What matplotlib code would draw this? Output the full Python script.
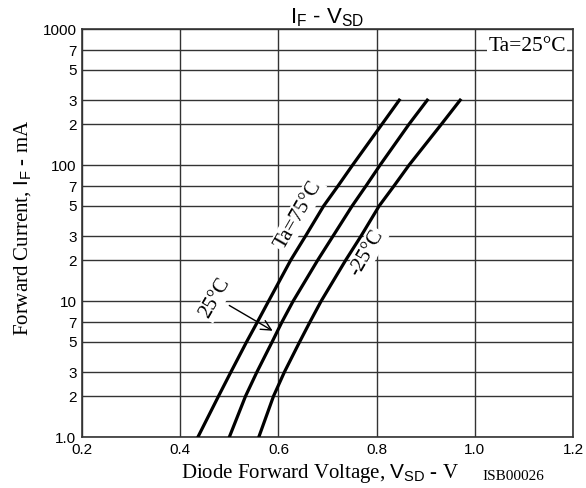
import matplotlib
matplotlib.use("Agg")
import matplotlib.pyplot as plt
import matplotlib.ticker as mticker

plt.rcParams["mathtext.fontset"] = "custom"
plt.rcParams["mathtext.rm"] = "Liberation Serif"
plt.rcParams["mathtext.sf"] = "Liberation Sans"
plt.rcParams["mathtext.it"] = "Liberation Serif:italic"

# forward current (mA) and read-off forward voltage (V) per temperature
current = [1, 2, 3, 5, 7, 10, 20, 30, 50, 70, 100, 200, 300]
v_75 = [0.436, 0.478, 0.503, 0.535, 0.557, 0.580, 0.625, 0.655, 0.692, 0.721, 0.751, 0.811, 0.846]
v_25 = [0.500, 0.533, 0.556, 0.587, 0.607, 0.630, 0.680, 0.711, 0.750, 0.778, 0.807, 0.866, 0.903]
v_m25 = [0.560, 0.590, 0.612, 0.643, 0.664, 0.687, 0.737, 0.768, 0.805, 0.835, 0.866, 0.932, 0.970]

x_ticks = [0.2, 0.4, 0.6, 0.8, 1.0, 1.2]
y_ticks = [1, 2, 3, 5, 7, 10, 20, 30, 50, 70, 100, 200, 300, 500, 700, 1000]
y_labels = ["1.0", "2", "3", "5", "7", "10", "2", "3", "5", "7", "100", "2", "3", "5", "7", "1000"]

fig = plt.figure(figsize=(5.86, 4.88), dpi=100)
ax = fig.add_axes([0.140, 0.1045, 0.838, 0.836])

for v in (v_75, v_25, v_m25):
    ax.plot(v, current, color="black", linewidth=2.3, solid_joinstyle="round", zorder=3)

ax.set_yscale("log")
ax.set_xlim(0.2, 1.2)
ax.set_ylim(1, 1000)
ax.xaxis.set_major_locator(mticker.FixedLocator(x_ticks))
ax.xaxis.set_major_formatter(mticker.FixedFormatter([f"{t:.1f}" for t in x_ticks]))
ax.yaxis.set_major_locator(mticker.FixedLocator(y_ticks))
ax.yaxis.set_major_formatter(mticker.FixedFormatter(y_labels))
ax.yaxis.set_minor_locator(mticker.NullLocator())
ax.tick_params(length=0, pad=4)
for lab in ax.get_xticklabels() + ax.get_yticklabels():
    lab.set_fontfamily("Liberation Sans")
    lab.set_fontsize(11)
ax.grid(True, which="major", color="#333333", linewidth=1.0)
ax.set_axisbelow(True)
for s in ax.spines.values():
    s.set_linewidth(1.2)
    s.set_color("#333333")

ax.set_title(r"$\mathsf{I_F}$ - $\mathsf{V_{SD}}$", fontsize=16, pad=1,
             fontfamily="Liberation Sans")
ax.set_xlabel(r"Diode Forward Voltage, $\mathsf{V_{SD}}$ - V", fontsize=15,
              fontfamily="Liberation Serif")
ax.xaxis.set_label_coords(0.485, -0.062)
ax.set_ylabel(r"Forward Current, $\mathsf{I_F}$ - mA", fontsize=15,
              fontfamily="Liberation Serif")
ax.yaxis.set_label_coords(-0.100, 0.512)

box = dict(facecolor="white", edgecolor="none", pad=1.0)
ax.text(1.106, 740, "Ta=25°C", fontsize=15.5, fontfamily="Liberation Serif",
        ha="center", va="center", bbox=box, zorder=4)
ax.text(0.640, 43, "Ta=75°C", fontsize=15, fontfamily="Liberation Serif",
        ha="center", va="center", rotation=60, bbox=box, zorder=4)
ax.text(0.780, 22.5, "-25°C", fontsize=15, fontfamily="Liberation Serif",
        ha="center", va="center", rotation=60, bbox=box, zorder=4)
ax.text(0.471, 10.5, "25°C", fontsize=15, fontfamily="Liberation Serif",
        ha="center", va="center", rotation=60, bbox=box, zorder=4)
ax.annotate("", xy=(0.593, 5.9), xytext=(0.495, 9.5),
            arrowprops=dict(arrowstyle="->", color="black", lw=1.0, mutation_scale=18), zorder=4)

fig.text(513 / 586, 1 - 476 / 488, "ISB00026", fontsize=11, fontfamily="Liberation Serif",
         ha="center", va="center")

fig.savefig("out.png", dpi=100, facecolor="white")
